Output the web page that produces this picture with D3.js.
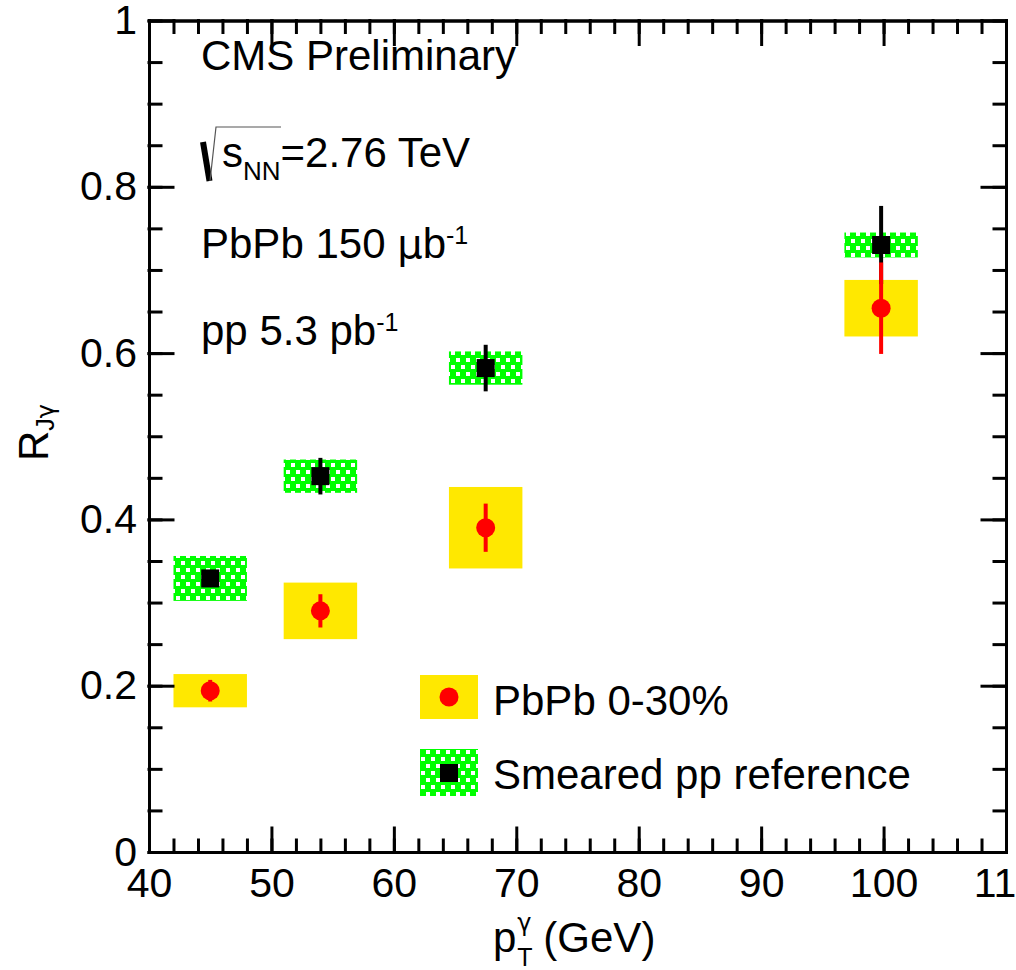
<!DOCTYPE html>
<html>
<head>
<meta charset="utf-8">
<script src="https://cdn.jsdelivr.net/npm/d3@7"></script>
<style>
body { margin: 0; background: #fff; }
svg { display: block; font-family: "Liberation Sans", Arial, Helvetica, sans-serif; }
.axis text { font-family: "Liberation Sans", Arial, Helvetica, sans-serif; font-size: 41px; fill: #000; }
.axis path, .axis line { stroke: #000; stroke-width: 3px; stroke-linecap: square; }
.label { font-size: 42px; fill: #000; }
.greek { font-family: "DejaVu Sans", sans-serif; }
</style>
</head>
<body>
<svg width="1016" height="970"></svg>
<script>
// R_Jgamma vs photon pT, PbPb 0-30% and smeared pp reference
var ptGamma = [45.0, 54.0, 67.5, 99.8];
var sysHalfWidth = [3, 3, 3, 3];

var pbpbR    = [0.194, 0.290, 0.390, 0.654];
var pbpbStat = [0.013, 0.020, 0.029, 0.055];
var pbpbSys  = [0.020, 0.034, 0.049, 0.034];

var ppR    = [0.329, 0.452, 0.582, 0.730];
var ppStat = [0.008, 0.022, 0.028, 0.047];
var ppSys  = [0.027, 0.020, 0.020, 0.015];

var xTicks = [40, 50, 60, 70, 80, 90, 100, 110];
var xMinorTicks = d3.range(40, 110.01, 2);
var yTicks = [0, 0.2, 0.4, 0.6, 0.8, 1];
var yTickLabels = ["0", "0.2", "0.4", "0.6", "0.8", "1"];
var yMinorTicks = d3.range(0, 1.001, 0.05);

var legendLabels = ["PbPb 0-30%", "Smeared pp reference"];

var svg = d3.select("svg"),
    padL = 149, padR = 1006, padT = 20.5, padB = 852,
    majorLen = 24, minorLen = 12;

var x = d3.scaleLinear().domain([40, 110]).range([padL, padR]);
var y = d3.scaleLinear().domain([0, 1]).range([padB, padT]);

// checkered fill for the pp systematic boxes
var pat = svg.append("defs").append("pattern")
    .attr("id", "checker")
    .attr("patternUnits", "userSpaceOnUse")
    .attr("width", 10).attr("height", 14);
pat.append("rect").attr("width", 10).attr("height", 14).style("fill", "#00ff00");
pat.append("rect").attr("x", 1).attr("y", 1).attr("width", 4).attr("height", 4).style("fill", "#fff");
pat.append("rect").attr("x", 6).attr("y", 8).attr("width", 4).attr("height", 4).style("fill", "#fff");

function sysBoxes(values, sys, fill) {
  svg.append("g").selectAll("rect")
    .data(values)
    .enter().append("rect")
      .attr("x", function(d, i) { return x(ptGamma[i] - sysHalfWidth[i]); })
      .attr("width", function(d, i) { return x(ptGamma[i] + sysHalfWidth[i]) - x(ptGamma[i] - sysHalfWidth[i]); })
      .attr("y", function(d, i) { return y(d + sys[i]); })
      .attr("height", function(d, i) { return y(d - sys[i]) - y(d + sys[i]); })
      .style("fill", fill);
}

function statBars(values, stat, color) {
  svg.append("g").selectAll("line")
    .data(values)
    .enter().append("line")
      .attr("x1", function(d, i) { return x(ptGamma[i]); })
      .attr("x2", function(d, i) { return x(ptGamma[i]); })
      .attr("y1", function(d, i) { return y(d + stat[i]); })
      .attr("y2", function(d, i) { return y(d - stat[i]); })
      .style("stroke", color)
      .style("stroke-width", 4);
}

sysBoxes(pbpbR, pbpbSys, "#ffe800");
sysBoxes(ppR, ppSys, "url(#checker)");

statBars(ppR, ppStat, "#000");
svg.append("g").selectAll("rect")
  .data(ppR)
  .enter().append("rect")
    .attr("x", function(d, i) { return x(ptGamma[i]) - 9; })
    .attr("y", function(d) { return y(d) - 9; })
    .attr("width", 18).attr("height", 18)
    .style("fill", "#000");

statBars(pbpbR, pbpbStat, "#ff0000");
svg.append("g").selectAll("circle")
  .data(pbpbR)
  .enter().append("circle")
    .attr("cx", function(d, i) { return x(ptGamma[i]); })
    .attr("cy", function(d) { return y(d); })
    .attr("r", 9.5)
    .style("fill", "#ff0000");

// axes, ticks pointing inward on all four sides
svg.append("g").attr("class", "axis")
    .attr("transform", "translate(0," + padB + ")")
    .call(d3.axisBottom(x).tickValues(xMinorTicks).tickSize(-minorLen).tickSizeOuter(0).tickFormat(""));
svg.append("g").attr("class", "axis")
    .attr("transform", "translate(0," + padB + ")")
    .call(d3.axisBottom(x).tickValues(xTicks).tickSize(-majorLen).tickSizeOuter(0).tickPadding(16).tickFormat(d3.format("d")));
svg.append("g").attr("class", "axis")
    .attr("transform", "translate(0," + padT + ")")
    .call(d3.axisTop(x).tickValues(xMinorTicks).tickSize(-minorLen).tickSizeOuter(0).tickFormat(""));
svg.append("g").attr("class", "axis")
    .attr("transform", "translate(0," + padT + ")")
    .call(d3.axisTop(x).tickValues(xTicks).tickSize(-majorLen).tickSizeOuter(0).tickFormat(""));

svg.append("g").attr("class", "axis")
    .attr("transform", "translate(" + padL + ",0)")
    .call(d3.axisLeft(y).tickValues(yMinorTicks).tickSize(-minorLen).tickSizeOuter(0).tickFormat(""));
svg.append("g").attr("class", "axis")
    .attr("transform", "translate(" + padL + ",0)")
    .call(d3.axisLeft(y).tickValues(yTicks).tickSize(-majorLen).tickSizeOuter(0).tickPadding(12)
      .tickFormat(function(d, i) { return yTickLabels[i]; }));
svg.append("g").attr("class", "axis")
    .attr("transform", "translate(" + padR + ",0)")
    .call(d3.axisRight(y).tickValues(yMinorTicks).tickSize(-minorLen).tickSizeOuter(0).tickFormat(""));
svg.append("g").attr("class", "axis")
    .attr("transform", "translate(" + padR + ",0)")
    .call(d3.axisRight(y).tickValues(yTicks).tickSize(-majorLen).tickSizeOuter(0).tickFormat(""));

// axis titles
var xt = svg.append("text").attr("class", "label").attr("x", 493).attr("y", 952).text("p");
var pw = xt.node().getComputedTextLength();
svg.append("text").attr("class", "label greek").style("font-size", "24px")
    .attr("x", 493 + pw + 1).attr("y", 931).text("\u03b3");
svg.append("text").attr("class", "label").style("font-size", "25px")
    .attr("x", 493 + pw + 1).attr("y", 966).text("T");
svg.append("text").attr("class", "label")
    .attr("x", 493 + pw + 27).attr("y", 952).text("(GeV)");

var yt = svg.append("text").attr("class", "label")
    .attr("transform", "translate(48,461) rotate(-90)");
yt.append("tspan").text("R");
yt.append("tspan").style("font-size", "25px").attr("dy", 6).text("J");
yt.append("tspan").attr("class", "greek").style("font-size", "24px").text("\u03b3");

// annotations
svg.append("text").attr("class", "label").attr("x", 201).attr("y", 70).text("CMS Preliminary");

svg.append("path")
    .attr("d", "M203,142L209.5,181")
    .style("stroke", "#000").style("stroke-width", 6).style("fill", "none");
svg.append("path")
    .attr("d", "M210,181L216,127H281")
    .style("stroke", "#555").style("stroke-width", 1.2).style("fill", "none");
var rs = svg.append("text").attr("class", "label").attr("x", 222).attr("y", 167);
rs.append("tspan").text("s");
rs.append("tspan").style("font-size", "26px").attr("dy", 13).text("NN");
rs.append("tspan").attr("dy", -13).text("=2.76 TeV");

var lumi1 = svg.append("text").attr("class", "label").attr("x", 201).attr("y", 258);
lumi1.append("tspan").text("PbPb 150 ");
lumi1.append("tspan").attr("class", "greek").style("font-size", "40px").text("\u03bc");
lumi1.append("tspan").text("b");
lumi1.append("tspan").style("font-size", "25px").attr("dy", -14).text("-1");

var lumi2 = svg.append("text").attr("class", "label").attr("x", 201).attr("y", 345);
lumi2.append("tspan").text("pp 5.3 pb");
lumi2.append("tspan").style("font-size", "25px").attr("dy", -14).text("-1");

// legend
var leg = svg.append("g");
leg.append("rect").attr("x", 420).attr("y", 675).attr("width", 58).attr("height", 44).style("fill", "#ffe800");
leg.append("circle").attr("cx", 449).attr("cy", 697).attr("r", 9.5).style("fill", "#ff0000");
leg.append("rect").attr("x", 420).attr("y", 749).attr("width", 58).attr("height", 47).style("fill", "url(#checker)");
leg.append("rect").attr("x", 440).attr("y", 764).attr("width", 18).attr("height", 18).style("fill", "#000");
leg.selectAll("text")
  .data(legendLabels)
  .enter().append("text")
    .attr("class", "label")
    .attr("x", 493)
    .attr("y", function(d, i) { return i === 0 ? 715 : 789; })
    .text(function(d) { return d; });
</script>
</body>
</html>
